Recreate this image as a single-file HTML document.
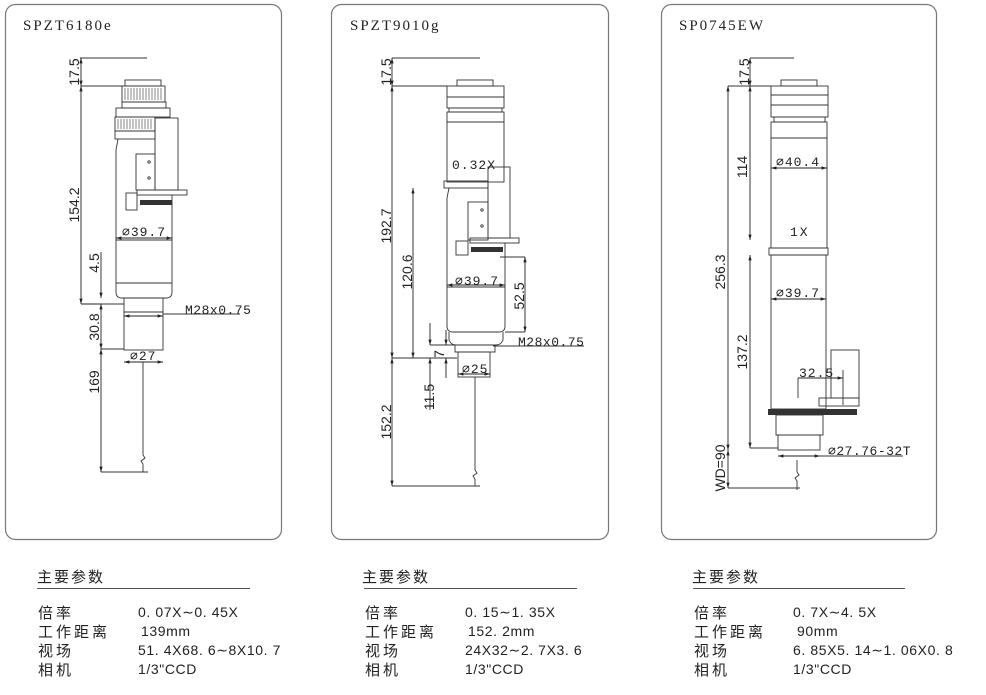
<!DOCTYPE html>
<html><head><meta charset="utf-8"><style>
html,body{margin:0;padding:0;background:#fff;width:986px;height:695px;overflow:hidden}
svg{display:block}
.t{font-family:"Liberation Mono","Noto Sans CJK SC",monospace;fill:#222}
.h{font-family:"Liberation Serif",serif;fill:#222}
.d{font-family:"Liberation Sans",sans-serif;font-size:14px;fill:#222}
.c{font-family:"Liberation Sans","Noto Sans CJK SC",sans-serif;font-size:15px;fill:#222}
.v{font-family:"Liberation Sans",sans-serif;font-size:14px;fill:#222;letter-spacing:0.6px}
</style></head><body>
<svg width="986" height="695" viewBox="0 0 986 695" xmlns="http://www.w3.org/2000/svg">
<defs>
<marker id="a" viewBox="0 0 10 10" refX="10" refY="5" markerWidth="6" markerHeight="6" orient="auto-start-reverse"><path d="M0,2 L10,5 L0,8 z" fill="#222"/></marker>
</defs>
<g fill="none" stroke="#777" stroke-width="1.2">
<rect x="5.5" y="4.5" width="276" height="535" rx="10"/>
<rect x="331.5" y="4.5" width="277" height="535" rx="10"/>
<rect x="661.5" y="4.5" width="275" height="535" rx="10"/>
</g>
<text class="h" x="23" y="30" font-size="15" letter-spacing="2">SPZT6180e</text>
<text class="h" x="350" y="30" font-size="15" letter-spacing="2">SPZT9010g</text>
<text class="h" x="679" y="30" font-size="15" letter-spacing="2">SP0745EW</text>

<!-- Panel 1 -->
<g fill="none" stroke="#333" stroke-width="0.9">
<line x1="80" y1="58" x2="147" y2="58"/>
<line x1="81" y1="86" x2="122" y2="86"/>
<rect x="125" y="80" width="36" height="6"/>
<rect x="122" y="86" width="43" height="16"/>
<rect x="122" y="102" width="44" height="6"/>
<rect x="116" y="108" width="54" height="9"/>
<rect x="115" y="117" width="40" height="14"/>
<rect x="115" y="131" width="40" height="8"/>
<path d="M118 139 L116 150 L116 292 Q116 298 122 298 L166 298 Q172 298 172 292 L172 195"/>
<line x1="116" y1="240" x2="172" y2="240"/>
<line x1="116" y1="283" x2="172" y2="283"/>
<rect x="155" y="118" width="23" height="72"/>
<rect x="136" y="154" width="19" height="36"/>
<circle cx="149" cy="162" r="1.2"/><circle cx="149" cy="178" r="1.2"/>
<rect x="126" y="193" width="11" height="17"/>
<rect x="137" y="190" width="50" height="5"/>
<rect x="124" y="298" width="39" height="14"/>
<rect x="124" y="312" width="39" height="38"/>
<line x1="101" y1="304" x2="124" y2="304"/>
<line x1="101" y1="349" x2="124" y2="349"/>
<line x1="101" y1="472" x2="148" y2="472"/>
<path d="M143 362 L143 455 L145 458 L141 461 L143 464 L143 472"/>
<line x1="163" y1="314" x2="240" y2="314"/>
<line x1="124" y1="362" x2="163" y2="362"/>
</g>
<rect x="140" y="200" width="32" height="5" fill="#333"/>
<g stroke="#333" stroke-width="0.6">
<path d="M125 88v12M128 88v12M131 88v12M134 88v12M137 88v12M140 88v12M143 88v12M146 88v12M149 88v12M152 88v12M155 88v12M158 88v12M161 88v12"/>
<path d="M118 119v10M121 119v10M124 119v10M127 119v10M130 119v10M133 119v10M136 119v10M139 119v10M142 119v10M145 119v10M148 119v10M151 119v10"/>
</g>
<g stroke="#222" stroke-width="0.9" fill="none">
<line x1="81" y1="58" x2="81" y2="86" marker-start="url(#a)" marker-end="url(#a)"/>
<line x1="81" y1="86" x2="81" y2="304" marker-start="url(#a)" marker-end="url(#a)"/>
<line x1="81" y1="304" x2="101" y2="304"/>
<line x1="101" y1="252" x2="101" y2="298" marker-end="url(#a)"/>
<line x1="101" y1="304" x2="101" y2="349" marker-start="url(#a)" marker-end="url(#a)"/>
<line x1="101" y1="349" x2="101" y2="472" marker-start="url(#a)" marker-end="url(#a)"/>
<line x1="116" y1="238" x2="172" y2="238" marker-start="url(#a)" marker-end="url(#a)"/>
<line x1="124" y1="316" x2="163" y2="316" marker-start="url(#a)" marker-end="url(#a)"/>
<line x1="124" y1="362" x2="163" y2="362" marker-start="url(#a)" marker-end="url(#a)"/>
</g>
<text class="d" transform="translate(79,72) rotate(-90)" text-anchor="middle">17.5</text>
<text class="d" transform="translate(79,205) rotate(-90)" text-anchor="middle">154.2</text>
<text class="d" transform="translate(99,263) rotate(-90)" text-anchor="middle">4.5</text>
<text class="d" transform="translate(99,327) rotate(-90)" text-anchor="middle">30.8</text>
<text class="d" transform="translate(99,382) rotate(-90)" text-anchor="middle">169</text>
<text class="t" x="122" y="236" font-size="13" letter-spacing="1">⌀39.7</text>
<text class="t" x="185" y="314" font-size="13" letter-spacing="0.5">M28x0.75</text>
<text class="t" x="130" y="360" font-size="13" letter-spacing="1">⌀27</text>

<!-- Panel 2 -->
<g fill="none" stroke="#333" stroke-width="0.9">
<line x1="392" y1="58" x2="480" y2="58"/>
<line x1="392" y1="86" x2="447" y2="86"/>
<rect x="457" y="80" width="36" height="6"/>
<rect x="447" y="86" width="57" height="22"/>
<line x1="447" y1="97" x2="504" y2="97"/>
<rect x="449" y="108" width="53" height="4"/>
<rect x="447" y="112" width="57" height="10"/>
<rect x="447" y="122" width="57" height="60"/>
<rect x="444" y="181" width="44" height="7"/>
<rect x="488" y="167" width="22" height="71"/>
<path d="M449 188 L447 198 L447 326 Q447 332 453 332 L499 332 Q505 332 505 326 L505 243"/>
<line x1="447" y1="287" x2="505" y2="287"/>
<rect x="468" y="202" width="20" height="38"/>
<circle cx="482" cy="210" r="1.2"/><circle cx="482" cy="226" r="1.2"/>
<rect x="470" y="238" width="49" height="5"/>
<rect x="456" y="241" width="12" height="14"/>
<path d="M449 332 L449 340 Q451 345 456 345 L496 345 Q501 345 503 340 L503 332"/>
<rect x="455" y="345" width="40" height="7"/>
<rect x="458" y="352" width="32" height="25"/>
<line x1="500" y1="257" x2="525" y2="257"/>
<line x1="505" y1="332" x2="525" y2="332"/>
<line x1="392" y1="358" x2="457" y2="358"/>
<line x1="430" y1="345" x2="455" y2="345"/>
<line x1="493" y1="346" x2="584" y2="346"/>
<line x1="392" y1="486" x2="480" y2="486"/>
<path d="M475 377 L475 470 L477 473 L473 476 L475 479 L475 486"/>
</g>
<rect x="471" y="247" width="32" height="5" fill="#333"/>
<g stroke="#222" stroke-width="0.9" fill="none">
<line x1="392" y1="58" x2="392" y2="86" marker-start="url(#a)" marker-end="url(#a)"/>
<line x1="392" y1="86" x2="392" y2="358" marker-start="url(#a)" marker-end="url(#a)"/>
<line x1="392" y1="358" x2="392" y2="486" marker-start="url(#a)" marker-end="url(#a)"/>
<line x1="413" y1="188" x2="413" y2="358" marker-start="url(#a)" marker-end="url(#a)"/>
<line x1="525" y1="257" x2="525" y2="332" marker-start="url(#a)" marker-end="url(#a)"/>
<line x1="430" y1="323" x2="430" y2="345" marker-end="url(#a)"/>
<line x1="430" y1="358" x2="430" y2="410" marker-start="url(#a)"/>
<line x1="446" y1="330" x2="446" y2="345" marker-end="url(#a)"/>
<line x1="446" y1="358" x2="446" y2="378" marker-start="url(#a)"/>
<line x1="447" y1="285" x2="505" y2="285" marker-start="url(#a)" marker-end="url(#a)"/>
<line x1="458" y1="374" x2="490" y2="374" marker-start="url(#a)" marker-end="url(#a)"/>
</g>
<text class="d" transform="translate(391,72) rotate(-90)" text-anchor="middle">17.5</text>
<text class="d" transform="translate(391,226) rotate(-90)" text-anchor="middle">192.7</text>
<text class="d" transform="translate(412,272) rotate(-90)" text-anchor="middle">120.6</text>
<text class="d" transform="translate(524,296) rotate(-90)" text-anchor="middle">52.5</text>
<text class="d" transform="translate(444,354) rotate(-90)" text-anchor="middle">7</text>
<text class="d" transform="translate(434,397) rotate(-90)" text-anchor="middle">11.5</text>
<text class="d" transform="translate(391,422) rotate(-90)" text-anchor="middle">152.2</text>
<text class="t" x="452" y="169" font-size="13" letter-spacing="1">0.32X</text>
<text class="t" x="455" y="285" font-size="13" letter-spacing="1">⌀39.7</text>
<text class="t" x="518" y="346" font-size="13" letter-spacing="0.5">M28x0.75</text>
<text class="t" x="462" y="373" font-size="13" letter-spacing="1">⌀25</text>

<!-- Panel 3 -->
<g fill="none" stroke="#333" stroke-width="0.9">
<line x1="750" y1="58" x2="794" y2="58"/>
<line x1="728" y1="86" x2="771" y2="86"/>
<rect x="781" y="80" width="36" height="6"/>
<rect x="771" y="86" width="57" height="9"/>
<rect x="771" y="95" width="57" height="10"/>
<rect x="771" y="105" width="57" height="12"/>
<rect x="774" y="117" width="51" height="5"/>
<rect x="771" y="122" width="56" height="126"/>
<line x1="771" y1="138" x2="827" y2="138"/>
<rect x="769" y="248" width="59" height="7"/>
<rect x="771" y="255" width="55" height="154"/>
<rect x="831" y="350" width="28" height="48"/>
<line x1="798" y1="378" x2="798" y2="398"/>
<line x1="843" y1="370" x2="843" y2="405"/>
<rect x="819" y="398" width="40" height="8"/>
<rect x="776" y="415" width="47" height="20"/>
<rect x="778" y="435" width="42" height="15"/>
<line x1="750" y1="448" x2="778" y2="448"/>
<line x1="778" y1="456" x2="903" y2="456"/>
<line x1="728" y1="488" x2="800" y2="488"/>
<path d="M797 460 L797 472 L799 475 L795 478 L797 481 L797 490"/>
</g>
<rect x="768" y="409" width="89" height="6" fill="#333"/>
<g stroke="#222" stroke-width="0.9" fill="none">
<line x1="750" y1="58" x2="750" y2="86" marker-start="url(#a)" marker-end="url(#a)"/>
<line x1="750" y1="86" x2="750" y2="240" marker-start="url(#a)" marker-end="url(#a)"/>
<line x1="750" y1="255" x2="750" y2="448" marker-start="url(#a)" marker-end="url(#a)"/>
<line x1="728" y1="86" x2="728" y2="450" marker-start="url(#a)" marker-end="url(#a)"/>
<line x1="728" y1="450" x2="728" y2="488" marker-start="url(#a)" marker-end="url(#a)"/>
<line x1="771" y1="168" x2="827" y2="168" marker-start="url(#a)" marker-end="url(#a)"/>
<line x1="771" y1="299" x2="826" y2="299" marker-start="url(#a)" marker-end="url(#a)"/>
<line x1="798" y1="378" x2="843" y2="378" marker-end="url(#a)"/>
<line x1="778" y1="456" x2="820" y2="456" marker-start="url(#a)" marker-end="url(#a)"/>
</g>
<text class="d" transform="translate(749,72) rotate(-90)" text-anchor="middle">17.5</text>
<text class="d" transform="translate(747,167) rotate(-90)" text-anchor="middle">114</text>
<text class="d" transform="translate(747,352) rotate(-90)" text-anchor="middle">137.2</text>
<text class="d" transform="translate(725,272) rotate(-90)" text-anchor="middle">256.3</text>
<text class="d" transform="translate(725,468) rotate(-90)" text-anchor="middle" font-size="12">WD=90</text>
<text class="t" x="776" y="166" font-size="13" letter-spacing="1">⌀40.4</text>
<text class="t" x="790" y="236" font-size="13" letter-spacing="2">1X</text>
<text class="t" x="776" y="297" font-size="13" letter-spacing="1">⌀39.7</text>
<text class="t" x="799" y="377" font-size="13" letter-spacing="1">32.5</text>
<text class="t" x="828" y="455" font-size="13" letter-spacing="0.5">⌀27.76-32T</text>

<!-- Parameters -->
<g>
<text class="c" x="37" y="582" letter-spacing="2">主要参数</text>
<line x1="37" y1="588.5" x2="250" y2="588.5" stroke="#555"/>
<text class="c" x="38" y="618" letter-spacing="3">倍率</text>
<text class="c" x="38" y="637" letter-spacing="3">工作距离</text>
<text class="c" x="38" y="656" letter-spacing="3">视场</text>
<text class="c" x="38" y="675" letter-spacing="3">相机</text>
<text class="v" x="138" y="617">0. 07X∼0. 45X</text>
<text class="v" x="141" y="636">139mm</text>
<text class="v" x="138" y="655">51. 4X68. 6∼8X10. 7</text>
<text class="v" x="138" y="674">1/3"CCD</text>

<text class="c" x="362" y="582" letter-spacing="2">主要参数</text>
<line x1="364" y1="588.5" x2="577" y2="588.5" stroke="#555"/>
<text class="c" x="365" y="618" letter-spacing="3">倍率</text>
<text class="c" x="365" y="637" letter-spacing="3">工作距离</text>
<text class="c" x="365" y="656" letter-spacing="3">视场</text>
<text class="c" x="365" y="675" letter-spacing="3">相机</text>
<text class="v" x="465" y="617">0. 15∼1. 35X</text>
<text class="v" x="468" y="636">152. 2mm</text>
<text class="v" x="465" y="655">24X32∼2. 7X3. 6</text>
<text class="v" x="465" y="674">1/3"CCD</text>

<text class="c" x="692" y="582" letter-spacing="2">主要参数</text>
<line x1="693" y1="588.5" x2="905" y2="588.5" stroke="#555"/>
<text class="c" x="694" y="618" letter-spacing="3">倍率</text>
<text class="c" x="694" y="637" letter-spacing="3">工作距离</text>
<text class="c" x="694" y="656" letter-spacing="3">视场</text>
<text class="c" x="694" y="675" letter-spacing="3">相机</text>
<text class="v" x="793" y="617">0. 7X∼4. 5X</text>
<text class="v" x="797" y="636">90mm</text>
<text class="v" x="793" y="655">6. 85X5. 14∼1. 06X0. 8</text>
<text class="v" x="793" y="674">1/3"CCD</text>
</g>
</svg>
</body></html>
